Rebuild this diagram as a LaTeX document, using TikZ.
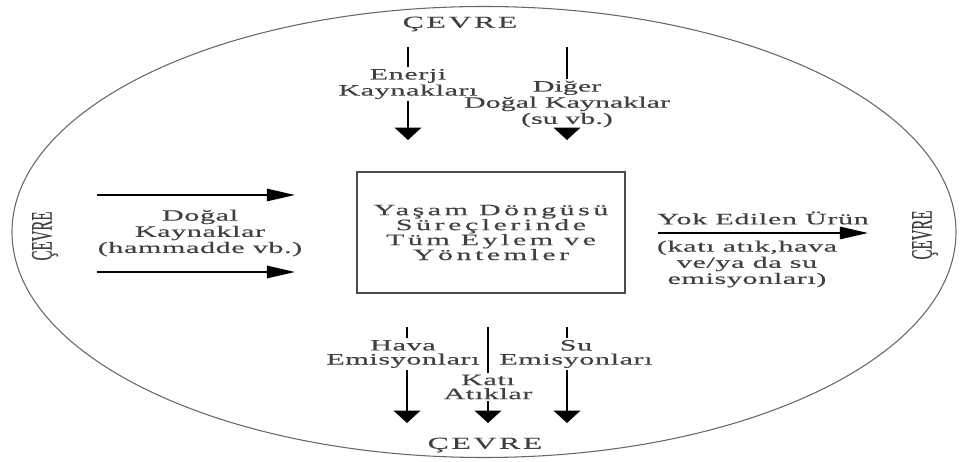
\documentclass[tikz,border=0pt]{standalone}
\usepackage{fontspec}
\setmainfont{Liberation Serif}[FakeStretch=1.9, LetterSpace=4, FakeBold=0.4]
\newfontfamily\upfont{Liberation Serif}[FakeBold=0.4]
\usetikzlibrary{arrows.meta}

\begin{document}
\begin{tikzpicture}[
		txt/.style={text=black!75, font=\fontsize{9}{8}\selectfont, align=center, inner sep=1pt},
		cevre/.style={text=black!75, font=\fontsize{9.5}{9}\selectfont\addfontfeature{LetterSpace=16}, inner sep=1pt},
		side/.style={text=black!75, rotate=90, inner sep=0pt},
		vline/.style={line width=1.2pt},
		varr/.style={line width=1.2pt, -{Triangle[width=15pt,length=7pt]}},
		harr/.style={line width=1.1pt, -{Triangle[width=7pt,length=16pt]}}]
	\useasboundingbox (-9.68,-4.60) rectangle (9.52,4.64);
	\draw[black!60, line width=0.6pt] (0,0) ellipse (9.44cm and 4.51cm);
	% environment labels
	\node[cevre] (cevreT) at (-0.48,4.16) {ÇEVRE};
	\node[cevre] (cevreB) at (0.02,-4.26) {ÇEVRE};
	\node[side] (cevreL) at (-8.78,-0.08) {\scalebox{1}[2]{\upfont\fontsize{8.5}{9}\selectfont ÇEVRE}};
	\node[side] (cevreR) at (8.82,-0.06) {\scalebox{1}[2]{\upfont\fontsize{8.5}{9}\selectfont ÇEVRE}};
	% main box
	\node[txt, draw=black!70, line width=0.8pt, font=\fontsize{9}{8.5}\selectfont\addfontfeature{LetterSpace=22},
		minimum width=5.36cm, minimum height=2.42cm] (box) at (0.14,-0.01)
		{Yaşam Döngüsü\\Süreçlerinde\\Tüm Eylem ve\\Yöntemler};
	% inputs from above
	\coordinate (enT) at (-1.52,3.70);
	\coordinate (enB) at (-1.52,1.84);
	\node[txt] (enerji) at (-1.52,2.96) {Enerji\\Kaynakları};
	\draw[vline] (enT) -- (enerji.north);
	\draw[varr] (enerji.south) -- (enB);
	\coordinate (dgT) at (1.66,3.70);
	\coordinate (dgB) at (1.66,1.84);
	\node[txt, font=\fontsize{9}{8}\selectfont\addfontfeature{LetterSpace=0}] (diger) at (1.66,2.56) {Diğer\\Doğal Kaynaklar\\(su vb.)};
	\draw[vline] (dgT) -- (diger.north);
	\draw[varr] (diger.south) -- (dgB);
	% inputs from the left
	\coordinate (lfA) at (-7.74,0.74);
	\coordinate (rtA) at (-3.78,0.74);
	\coordinate (lfB) at (-7.74,-0.80);
	\coordinate (rtB) at (-3.78,-0.80);
	\node[txt] (dogal) at (-5.68,-0.02) {Doğal\\Kaynaklar\\(hammadde vb.)};
	\draw[harr] (lfA) -- (rtA);
	\draw[harr] (lfB) -- (rtB);
	% output to the right
	\coordinate (ykA) at (3.48,-0.02);
	\coordinate (ykB) at (7.68,-0.02);
	\node[txt] (yok) at (5.58,0.28) {Yok Edilen Ürün};
	\node[txt] (atik) at (5.26,-0.64) {(katı atık,hava\\ve/ya da su\\emisyonları)};
	\draw[harr] (ykA) -- (ykB);
	% outputs below
	\coordinate (hvT) at (-1.54,-1.90);
	\coordinate (hvB) at (-1.54,-3.82);
	\node[txt] (hava) at (-1.62,-2.44) {Hava\\Emisyonları};
	\draw[vline] (hvT) -- (hvT |- hava.north);
	\draw[varr] (hvT |- hava.south) -- (hvB);
	\coordinate (ktT) at (0.08,-1.90);
	\coordinate (ktB) at (0.08,-3.82);
	\node[txt] (kati) at (0.08,-3.10) {Katı\\Atıklar};
	\draw[vline] (ktT) -- (ktT |- kati.north);
	\draw[varr] (ktT |- kati.south) -- (ktB);
	\coordinate (suT) at (1.66,-1.90);
	\coordinate (suB) at (1.66,-3.82);
	\node[txt] (su) at (1.84,-2.44) {Su\\Emisyonları};
	\draw[vline] (suT) -- (suT |- su.north);
	\draw[varr] (suT |- su.south) -- (suB);
\end{tikzpicture}
\end{document}
